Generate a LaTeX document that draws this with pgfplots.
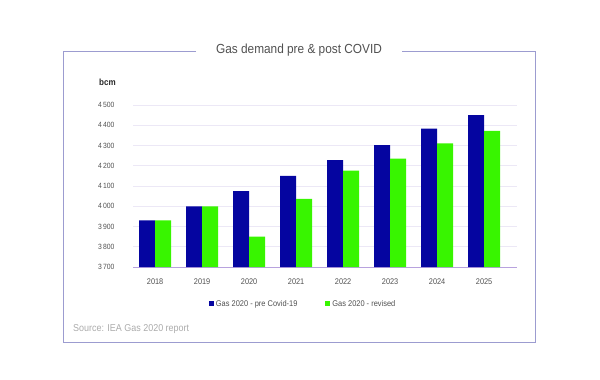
\documentclass[border=0pt]{standalone}
\usepackage{pgfplots}
\pgfplotsset{compat=1.18}
\usepackage{fontspec}
\setmainfont{Liberation Sans}[FakeStretch=0.9]
\definecolor{barblue}{HTML}{0505A0}
\definecolor{bargreen}{HTML}{38F500}
\definecolor{framec}{HTML}{9C9CD0}
\definecolor{gridc}{HTML}{ECE8F6}
\definecolor{axisc}{HTML}{B8A2DE}
\definecolor{txt}{HTML}{505050}
\begin{document}
\begin{tikzpicture}[x=1bp,y=1bp]
\useasboundingbox (0,0) rectangle (600,379);
\draw[framec,line width=0.8bp] (196,328) -- (63,328) -- (63,37) -- (535,37) -- (535,328) -- (402,328);
\node[txt,font=\fontsize{13.2}{15}\selectfont] at (299,329) {Gas demand pre \& post COVID};
\node[anchor=west,font=\fontsize{9}{10}\selectfont\bfseries,text=black!85,inner sep=0] at (99,297) {bcm};
\node[anchor=west,font=\fontsize{10}{12}\selectfont,text=black!33,inner sep=0] at (73,50) {Source: IEA Gas 2020 report};
\begin{axis}[
  at={(133bp,112bp)}, anchor=south west,
  scale only axis, width=384bp, height=162bp,
  ymin=3700, ymax=4500, ytick distance=100,
  xmin=-0.47, xmax=7.7,
  xtick=data, xticklabels={2018,2019,2020,2021,2022,2023,2024,2025},
  ybar=0pt, bar width=16bp,
  axis x line*=bottom, axis y line*=left,
  y axis line style={draw=none},
  x axis line style={draw=axisc, line width=0.8bp},
  major tick length=0pt,
  ymajorgrids, grid style={gridc, line width=0.6bp},
  /pgf/number format/assume math mode=true,
  /pgf/number format/1000 sep={\,},
  tick label style={text=txt},
  yticklabel style={font=\fontsize{7.6}{9}\selectfont, xshift=-15bp},
  xticklabel style={font=\fontsize{8.2}{9}\selectfont, yshift=-8bp},
  legend columns=2,
  legend style={draw=none, at={(0.443,-0.228)}, anchor=center, font=\fontsize{8.3}{9}\selectfont, text=txt,
    /tikz/every even column/.append style={column sep=26bp}},
  legend image code/.code={\fill[#1] (0bp,-2.5bp) rectangle (5bp,2.5bp);},
]
\addplot[fill=barblue, draw=none] coordinates {(0,3930) (1,4000) (2,4075) (3,4150) (4,4228) (5,4302) (6,4383) (7,4450)};
\addplot[fill=bargreen, draw=none] coordinates {(0,3930) (1,4000) (2,3850) (3,4036) (4,4176) (5,4235) (6,4311) (7,4372)};
\legend{Gas 2020 - pre Covid-19, Gas 2020 - revised}
\end{axis}
\end{tikzpicture}
\end{document}
